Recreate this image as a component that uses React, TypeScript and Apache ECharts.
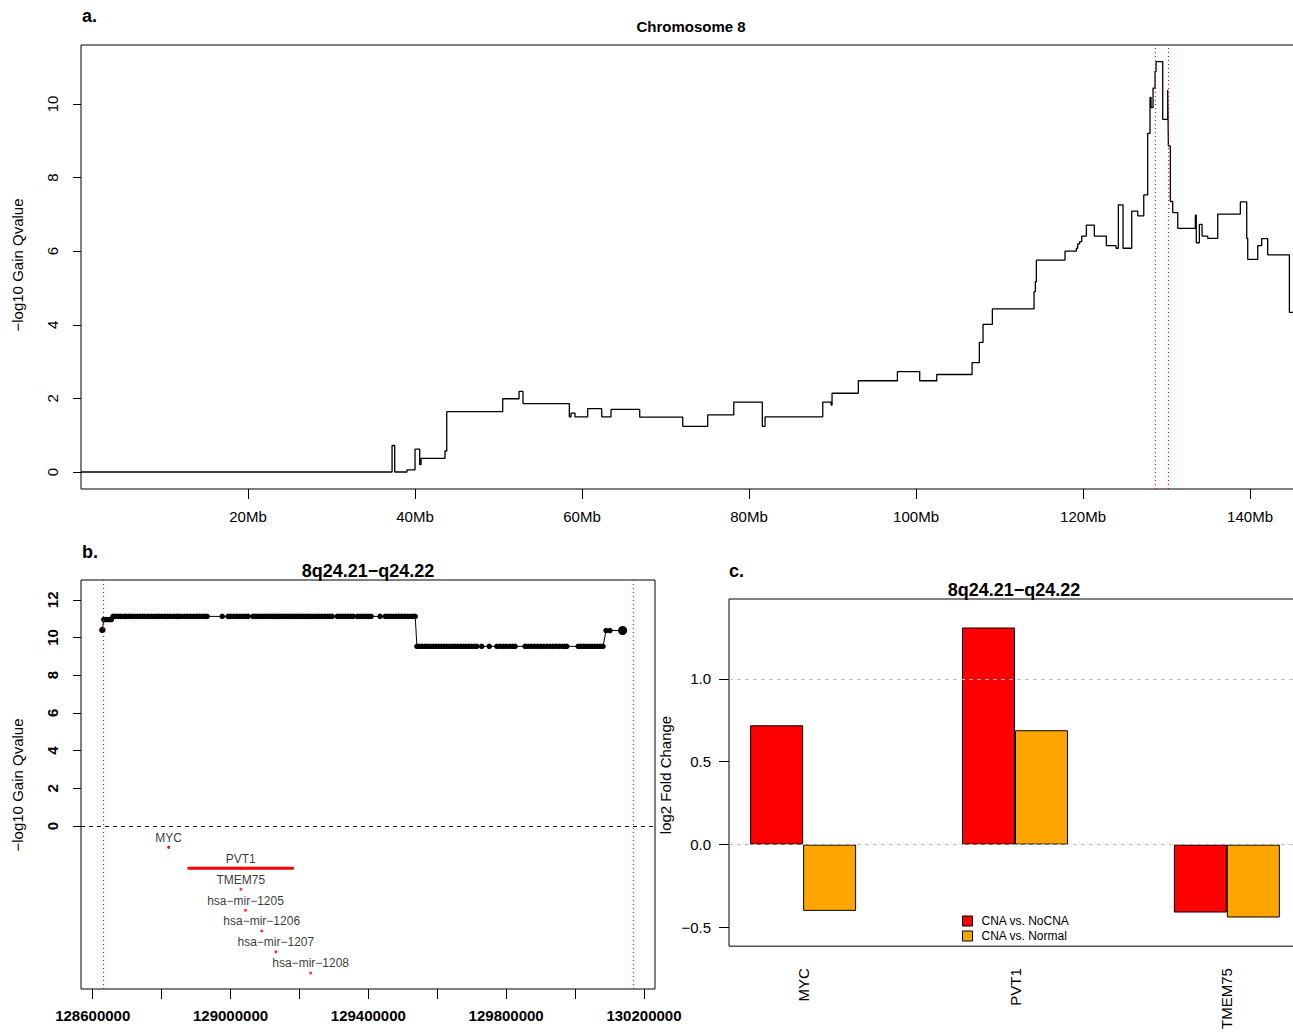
import React, { useEffect, useRef } from 'react';
import * as echarts from 'echarts';

const FONT = "'Liberation Sans', Arial, Helvetica, sans-serif";
const MINUS = '\u2212';

// ---------- Panel a: chromosome 8 gain q-values (step line) ----------
const chr8Steps: [number, number][] = [
  [0, 0], [37.25, 0.72], [37.57, 0], [39.04, 0.06], [40.0, 0.62], [40.56, 0.2], [40.72, 0.37],
  [43.59, 0.57], [43.8, 1.64], [50.5, 1.99], [52.46, 2.19], [52.93, 1.86], [58.48, 1.5],
  [58.68, 1.6], [59.16, 1.5], [60.68, 1.72], [62.36, 1.5], [63.47, 1.7], [66.91, 1.49],
  [72.06, 1.24], [75.05, 1.55], [78.17, 1.9], [81.59, 1.24], [81.92, 1.5], [88.83, 1.9],
  [89.82, 1.82], [89.94, 2.14], [93.09, 2.48], [97.77, 2.73], [100.44, 2.48], [102.48, 2.65],
  [106.71, 2.97], [107.58, 3.52], [108.02, 4.01], [109.14, 4.43], [114.13, 4.9], [114.29, 5.17],
  [114.41, 5.76], [117.84, 6.0], [119.2, 6.08], [119.36, 6.2], [119.6, 6.26], [119.84, 6.41],
  [120.4, 6.71], [121.35, 6.41], [122.79, 6.15], [123.95, 6.08], [124.23, 7.26], [124.79, 6.08],
  [125.83, 7.09], [126.55, 6.96], [127.27, 7.53], [127.74, 9.2], [128.02, 10.18], [128.14, 9.9],
  [128.38, 10.43], [128.62, 10.88], [128.74, 11.15], [129.54, 9.58], [130.14, 10.38],
  [130.22, 8.86], [130.45, 7.35], [130.74, 7.05], [131.34, 6.62], [133.45, 6.98], [133.56, 6.23],
  [133.93, 6.73], [134.25, 6.41], [134.93, 6.35], [136.13, 7.01], [138.84, 7.34], [139.6, 6.35],
  [139.72, 5.78], [140.92, 6.15], [141.39, 6.34], [142.11, 5.9], [144.71, 4.34], [146.1, 4.34],
];
const chr8XTicks = [20, 40, 60, 80, 100, 120, 140];
const chr8YTicks = [0, 2, 4, 6, 8, 10];
const peakBounds = [128.63, 130.17];

// ---------- Panel b: 8q24.21-q24.22 markers ----------
const regionLevels = [10.4, 10.95, 11.12, 9.53, 10.37];
const regionMarkers: number[][] = [
  [128.628],
  [128.632, 128.637, 128.643, 128.649, 128.654],
  [
    128.659, 128.666, 128.674, 128.681, 128.69, 128.697, 128.706, 128.712, 128.721, 128.73,
    128.738, 128.745, 128.752, 128.761, 128.77, 128.778, 128.786, 128.793, 128.801, 128.81,
    128.818, 128.826, 128.835, 128.843, 128.85, 128.858, 128.867, 128.875, 128.884, 128.893,
    128.901, 128.909, 128.917, 128.925, 128.932,
    128.976,
    128.993, 129.001, 129.01, 129.019, 129.027, 129.036, 129.044, 129.051,
    129.065, 129.072, 129.079, 129.086, 129.093, 129.1, 129.107, 129.114, 129.121, 129.128,
    129.135, 129.142, 129.149, 129.156, 129.163, 129.17, 129.177, 129.184, 129.191, 129.198,
    129.205, 129.212, 129.219, 129.226, 129.233, 129.241, 129.249, 129.257, 129.265, 129.273,
    129.281, 129.288, 129.295,
    129.31, 129.318, 129.326, 129.334, 129.341, 129.349, 129.356,
    129.368, 129.376, 129.384, 129.392, 129.4, 129.408,
    129.434,
    129.449, 129.457, 129.465, 129.473, 129.481, 129.489, 129.497, 129.505, 129.513, 129.521,
    129.529, 129.536,
  ],
  [
    129.541, 129.548, 129.556, 129.564, 129.572, 129.58, 129.588, 129.596, 129.604, 129.612,
    129.62, 129.628, 129.636, 129.644, 129.652, 129.66, 129.668, 129.676, 129.684, 129.692,
    129.7, 129.708, 129.715,
    129.729, 129.751,
    129.773, 129.782, 129.791, 129.8, 129.809, 129.818, 129.826,
    129.855, 129.864, 129.873, 129.882, 129.891, 129.9, 129.909, 129.918, 129.927, 129.936,
    129.945, 129.954, 129.963, 129.97, 129.976,
    130.009, 130.017, 130.025, 130.033, 130.041, 130.049, 130.057, 130.065, 130.073, 130.081,
  ],
  [130.09, 130.101, 130.138],
];
const regionXLabels = [128.6, 129.0, 129.4, 129.8, 130.2];
const regionXTicks = [128.6, 128.8, 129.0, 129.2, 129.4, 129.6, 129.8, 130.0, 130.2];
const regionYTicks = [0, 2, 4, 6, 8, 10, 12];

const geneNames = ['MYC', 'PVT1', 'TMEM75', 'hsa−mir−1205', 'hsa−mir−1206', 'hsa−mir−1207', 'hsa−mir−1208'];
const geneStart = [128.818, 128.875, 129.029, 129.043, 129.09, 129.131, 129.232];
const geneEnd = [128.823, 129.184, 129.031, 129.044, 129.091, 129.132, 129.233];
const geneRow = [-1.13, -2.24, -3.36, -4.47, -5.57, -6.68, -7.8];

// ---------- Panel c: log2 fold change ----------
const fcGenes = ['MYC', 'PVT1', 'TMEM75'];
const fcNoCNA = [0.72, 1.31, -0.41];
const fcNormal = [-0.4, 0.69, -0.44];
const fcYTicks = [-0.5, 0, 0.5, 1.0];
const fcLegend = ['CNA vs. NoCNA', 'CNA vs. Normal'];

const fmtNum = (v: number, d: number) => {
  const s = Math.abs(v).toFixed(d);
  return v < 0 ? MINUS + s : s;
};

function buildOption() {
  const base = { fontFamily: FONT, color: '#000' };
  const hiddenLine = { show: false, onZero: false };
  const redDotted = { color: '#ff0000', type: [1, 3] as number[], width: 1.2 };

  const markerData: any[] = [];
  regionMarkers.forEach((arr, li) => {
    arr.forEach((p) => markerData.push([p, regionLevels[li]]));
  });
  markerData[markerData.length - 1] = { value: markerData[markerData.length - 1], symbolSize: 9 };
  markerData[0] = { value: markerData[0], symbolSize: 6.5 };

  // panel c bar positions (R barplot, space = 2 before each group)
  const redData = fcNoCNA.map((v, i) => [2.5 + 4 * i, v]);
  const orangeData = fcNormal.map((v, i) => [3.5 + 4 * i, v]);
  const fcLabelPos = fcGenes.map((_, i) => 3 + 4 * i);

  const geneSeries = geneNames.map((n, i) => ({
    type: 'line',
    xAxisIndex: 1,
    yAxisIndex: 1,
    symbol: 'none',
    silent: true,
    lineStyle: { color: '#ff0000', width: 3 },
    data: [[geneStart[i], geneRow[i]], [geneEnd[i], geneRow[i]]],
    z: 3,
  }));

  return {
    animation: false,
    backgroundColor: '#ffffff',
    textStyle: { fontFamily: FONT },
    grid: [
      { left: 81, top: 45, width: 1220, height: 444, show: true, borderColor: '#000', borderWidth: 1, backgroundColor: 'transparent' },
      { left: 81, top: 580, width: 574, height: 409, show: true, borderColor: '#000', borderWidth: 1, backgroundColor: 'transparent' },
      { left: 729, top: 599, width: 572, height: 352, show: true, borderColor: '#000', borderWidth: 1, backgroundColor: 'transparent' },
    ],
    xAxis: [
      {
        gridIndex: 0, type: 'value', min: 0, max: 146.1,
        axisLine: hiddenLine, splitLine: { show: false },
        axisTick: { show: true, customValues: chr8XTicks, length: 10, lineStyle: { color: '#000' } },
        axisLabel: { customValues: chr8XTicks, formatter: (v: number) => v + 'Mb', fontSize: 15, margin: 20, ...base },
      },
      {
        gridIndex: 1, type: 'value', min: 128.566, max: 130.232,
        axisLine: hiddenLine, splitLine: { show: false },
        axisTick: { show: true, customValues: regionXTicks, length: 10, lineStyle: { color: '#000' } },
        axisLabel: {
          customValues: regionXLabels, formatter: (v: number) => String(Math.round(v * 1e6)),
          fontSize: 15, fontWeight: 'bold', margin: 19, ...base,
        },
      },
      {
        gridIndex: 2, type: 'value', min: 1.6, max: 12.4,
        axisLine: hiddenLine, splitLine: { show: false },
        axisTick: { show: false },
        axisLabel: {
          customValues: fcLabelPos,
          formatter: (v: number) => fcGenes[fcLabelPos.indexOf(Math.round(v))] ?? '',
          rotate: 90, fontSize: 15, margin: 22, ...base,
        },
      },
    ],
    yAxis: [
      {
        gridIndex: 0, type: 'value', min: -0.462, max: 11.603,
        axisLine: hiddenLine, splitLine: { show: false },
        axisTick: { show: true, customValues: chr8YTicks, length: 8, lineStyle: { color: '#000' } },
        axisLabel: { customValues: chr8YTicks, rotate: 90, fontSize: 15, margin: 21, ...base },
      },
      {
        gridIndex: 1, type: 'value', min: -8.65, max: 13.05,
        axisLine: hiddenLine, splitLine: { show: false },
        axisTick: { show: true, customValues: regionYTicks, length: 8, lineStyle: { color: '#000' } },
        axisLabel: { customValues: regionYTicks, rotate: 90, fontSize: 15, fontWeight: 'bold', margin: 21, ...base },
      },
      {
        gridIndex: 2, type: 'value', min: -0.613, max: 1.482,
        axisLine: hiddenLine, splitLine: { show: false },
        axisTick: { show: true, customValues: fcYTicks, length: 10, lineStyle: { color: '#000' } },
        axisLabel: { customValues: fcYTicks, formatter: (v: number) => fmtNum(v, 1), fontSize: 15, margin: 18, ...base },
      },
    ],
    legend: {
      data: fcLegend,
      orient: 'vertical',
      left: 962,
      top: 915,
      padding: 0,
      itemWidth: 10,
      itemHeight: 10,
      itemGap: 3,
      icon: 'rect',
      itemStyle: { borderColor: '#000', borderWidth: 1 },
      textStyle: { fontSize: 12, fontFamily: FONT, color: '#000', padding: [0, 0, 0, 4] },
      selectedMode: false,
    },
    graphic: [
      { type: 'text', x: 82, y: 16, style: { text: 'a.', font: `bold 18px ${FONT}`, fill: '#000', align: 'left', verticalAlign: 'middle' } },
      { type: 'text', x: 691, y: 26, style: { text: 'Chromosome 8', font: `bold 15px ${FONT}`, fill: '#000', align: 'center', verticalAlign: 'middle' } },
      { type: 'text', x: 17, y: 265, rotation: Math.PI / 2, style: { text: MINUS + 'log10 Gain Qvalue', font: `15px ${FONT}`, fill: '#000', align: 'center', verticalAlign: 'middle' } },
      { type: 'text', x: 82, y: 552, style: { text: 'b.', font: `bold 18px ${FONT}`, fill: '#000', align: 'left', verticalAlign: 'middle' } },
      { type: 'text', x: 368, y: 571, style: { text: '8q24.21' + MINUS + 'q24.22', font: `bold 18px ${FONT}`, fill: '#000', align: 'center', verticalAlign: 'middle' } },
      { type: 'text', x: 17, y: 785, rotation: Math.PI / 2, style: { text: MINUS + 'log10 Gain Qvalue', font: `15px ${FONT}`, fill: '#000', align: 'center', verticalAlign: 'middle' } },
      { type: 'text', x: 729, y: 571, style: { text: 'c.', font: `bold 18px ${FONT}`, fill: '#000', align: 'left', verticalAlign: 'middle' } },
      { type: 'text', x: 1014, y: 590, style: { text: '8q24.21' + MINUS + 'q24.22', font: `bold 18px ${FONT}`, fill: '#000', align: 'center', verticalAlign: 'middle' } },
      { type: 'text', x: 665, y: 775, rotation: Math.PI / 2, style: { text: 'log2 Fold Change', font: `15px ${FONT}`, fill: '#000', align: 'center', verticalAlign: 'middle' } },
    ],
    series: [
      {
        type: 'line',
        xAxisIndex: 0,
        yAxisIndex: 0,
        step: 'end',
        symbol: 'none',
        silent: true,
        lineStyle: { color: '#000', width: 1.3 },
        data: chr8Steps,
        markLine: {
          silent: true,
          symbol: 'none',
          label: { show: false },
          lineStyle: redDotted,
          data: peakBounds.map((v) => ({ xAxis: v })),
        },
      },
      {
        type: 'line',
        xAxisIndex: 1,
        yAxisIndex: 1,
        symbol: 'circle',
        symbolSize: 5.5,
        silent: true,
        itemStyle: { color: '#000' },
        lineStyle: { color: '#000', width: 1 },
        data: markerData,
        markLine: {
          silent: true,
          symbol: 'none',
          label: { show: false },
          lineStyle: { color: '#000', type: [4, 4], width: 1 },
          data: [{ yAxis: 0 }],
        },
      },
      ...geneSeries,
      {
        type: 'scatter',
        xAxisIndex: 1,
        yAxisIndex: 1,
        symbol: 'circle',
        symbolSize: 3,
        silent: true,
        itemStyle: { color: '#ff0000' },
        data: geneNames.map((n, i) => [(geneStart[i] + geneEnd[i]) / 2, geneRow[i]]),
        label: {
          show: true,
          position: 'top',
          distance: 2,
          formatter: (p: any) => geneNames[p.dataIndex],
          fontSize: 12,
          fontFamily: FONT,
          color: '#000',
        },
        markLine: {
          silent: true,
          symbol: 'none',
          label: { show: false },
          lineStyle: redDotted,
          data: peakBounds.map((v) => ({ xAxis: v })),
        },
        z: 4,
      },
      {
        name: fcLegend[0],
        type: 'bar',
        xAxisIndex: 2,
        yAxisIndex: 2,
        barWidth: 53,
        barGap: '-100%',
        silent: true,
        itemStyle: { color: '#ff0000', borderColor: '#000', borderWidth: 1 },
        data: redData,
      },
      {
        name: fcLegend[1],
        type: 'bar',
        xAxisIndex: 2,
        yAxisIndex: 2,
        barWidth: 53,
        barGap: '-100%',
        silent: true,
        itemStyle: { color: '#ffa500', borderColor: '#000', borderWidth: 1 },
        data: orangeData,
        markLine: {
          silent: true,
          symbol: 'none',
          label: { show: false },
          lineStyle: { color: '#bebebe', type: [4, 4], width: 1 },
          data: [{ yAxis: 1 }, { yAxis: 0 }],
          z: 10,
        },
      },
    ],
  };
}

export default function App() {
  const ref = useRef<HTMLDivElement>(null);
  useEffect(() => {
    document.documentElement.style.overflow = 'hidden';
    document.body.style.overflow = 'hidden';
    const chart = echarts.init(ref.current!, null, { renderer: 'svg' });
    chart.setOption(buildOption() as any);
    return () => chart.dispose();
  }, []);
  return (
    <div
      ref={ref}
      style={{ position: 'fixed', left: 0, top: 0, width: 1310, height: 1032, background: '#fff' }}
    />
  );
}
